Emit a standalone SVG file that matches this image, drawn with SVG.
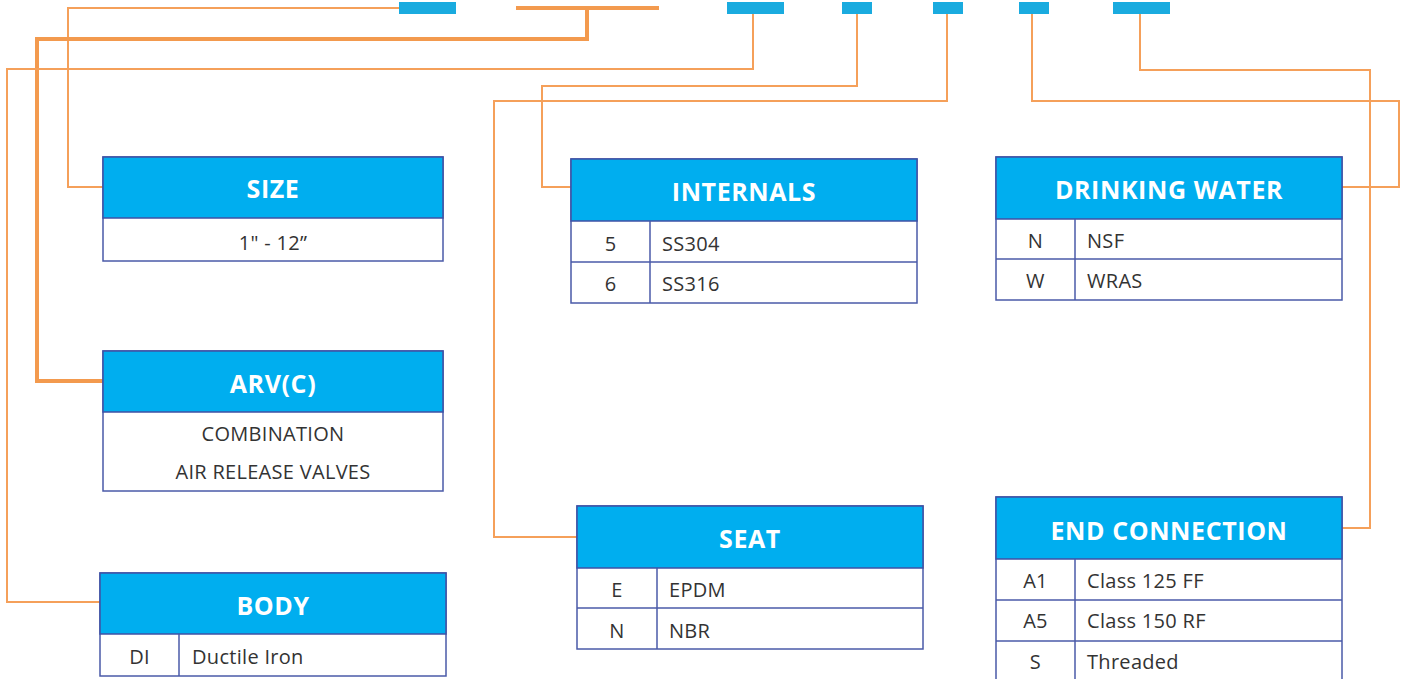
<svg xmlns="http://www.w3.org/2000/svg" width="1404" height="679" viewBox="0 0 1404 679">
<style>
.bar{fill:#1aabdf}
.hd{fill:#00aeef;stroke:#3f51a5;stroke-width:1.5}
.bd{fill:#ffffff;stroke:#4a5aa8;stroke-width:1.5}
.dv{stroke:#4a5aa8;stroke-width:1.5;fill:none}
.ht{font-family:"Open Sans","Noto Sans",sans-serif;font-weight:bold;font-size:25px;letter-spacing:0.6px;fill:#ffffff;text-anchor:middle}
.t{font-family:"Open Sans","Noto Sans",sans-serif;font-size:20px;letter-spacing:0.3px;fill:#333333}
.c{text-anchor:middle}
.ln{fill:none;stroke:#f5a05a;stroke-width:2}
.thk{fill:none;stroke:#f39a4e;stroke-width:4}
</style>
<rect width="1404" height="679" fill="#ffffff"/>
<g id="code-bars">
<rect class="bar" x="399" y="2" width="57" height="12"/>
<rect class="bar" x="727" y="2" width="57" height="12"/>
<rect class="bar" x="842" y="2" width="30" height="12"/>
<rect class="bar" x="933" y="2" width="30" height="12"/>
<rect class="bar" x="1019" y="2" width="30" height="12"/>
<rect class="bar" x="1113" y="2" width="57" height="12"/>
</g>
<g id="connectors">
<polyline class="ln" points="399,8 68,8 68,187 103,187"/>
<line class="thk" x1="516" y1="8" x2="659" y2="8"/>
<polyline class="thk" points="587,8 587,39 37,39 37,381 103,381"/>
<polyline class="ln" points="753,14 753,69 7,69 7,602 100,602"/>
<polyline class="ln" points="857,14 857,86 542,86 542,187 571,187"/>
<polyline class="ln" points="947,14 947,101 494,101 494,537 577,537"/>
<polyline class="ln" points="1032,14 1032,101 1399,101 1399,187 1342,187"/>
<polyline class="ln" points="1140,14 1140,70 1370,70 1370,528 1342,528"/>
</g>
<g id="size">
<rect class="bd" x="103" y="157" width="340" height="104"/>
<rect class="hd" x="103" y="157" width="340" height="61"/>
<text class="ht" x="273" y="198">SIZE</text>
<text class="t c" x="273" y="250">1" - 12”</text>
</g>
<g id="arv">
<rect class="bd" x="103" y="351" width="340" height="140"/>
<rect class="hd" x="103" y="351" width="340" height="61"/>
<text class="ht" x="273" y="393">ARV(C)</text>
<text class="t c" x="273" y="441">COMBINATION</text>
<text class="t c" x="273" y="479">AIR RELEASE VALVES</text>
</g>
<g id="body">
<rect class="bd" x="100" y="573" width="346" height="103"/>
<rect class="hd" x="100" y="573" width="346" height="61"/>
<line class="dv" x1="179" y1="634" x2="179" y2="676"/>
<text class="ht" x="273" y="615">BODY</text>
<text class="t c" x="139.5" y="664">DI</text>
<text class="t" x="192" y="664">Ductile Iron</text>
</g>
<g id="internals">
<rect class="bd" x="571" y="159" width="346" height="144"/>
<rect class="hd" x="571" y="159" width="346" height="62"/>
<line class="dv" x1="650" y1="221" x2="650" y2="303"/>
<line class="dv" x1="571" y1="262" x2="917" y2="262"/>
<text class="ht" x="744" y="201">INTERNALS</text>
<text class="t c" x="610.5" y="251">5</text>
<text class="t" x="662" y="251">SS304</text>
<text class="t c" x="610.5" y="291">6</text>
<text class="t" x="662" y="291">SS316</text>
</g>
<g id="seat">
<rect class="bd" x="577" y="506" width="346" height="143"/>
<rect class="hd" x="577" y="506" width="346" height="62"/>
<line class="dv" x1="657" y1="568" x2="657" y2="649"/>
<line class="dv" x1="577" y1="608" x2="923" y2="608"/>
<text class="ht" x="750" y="548">SEAT</text>
<text class="t c" x="617" y="597">E</text>
<text class="t" x="669" y="597">EPDM</text>
<text class="t c" x="617" y="638">N</text>
<text class="t" x="669" y="638">NBR</text>
</g>
<g id="drinking-water">
<rect class="bd" x="996" y="157" width="346" height="143"/>
<rect class="hd" x="996" y="157" width="346" height="62"/>
<line class="dv" x1="1075" y1="219" x2="1075" y2="300"/>
<line class="dv" x1="996" y1="259" x2="1342" y2="259"/>
<text class="ht" x="1169" y="199">DRINKING WATER</text>
<text class="t c" x="1035.5" y="248">N</text>
<text class="t" x="1087" y="248">NSF</text>
<text class="t c" x="1035.5" y="288">W</text>
<text class="t" x="1087" y="288">WRAS</text>
</g>
<g id="end-connection">
<rect class="bd" x="996" y="497" width="346" height="186"/>
<rect class="hd" x="996" y="497" width="346" height="62"/>
<line class="dv" x1="1075" y1="559" x2="1075" y2="683"/>
<line class="dv" x1="996" y1="600" x2="1342" y2="600"/>
<line class="dv" x1="996" y1="641" x2="1342" y2="641"/>
<text class="ht" x="1169" y="540">END CONNECTION</text>
<text class="t c" x="1035.5" y="588">A1</text>
<text class="t" x="1087" y="588">Class 125 FF</text>
<text class="t c" x="1035.5" y="628">A5</text>
<text class="t" x="1087" y="628">Class 150 RF</text>
<text class="t c" x="1035.5" y="669">S</text>
<text class="t" x="1087" y="669">Threaded</text>
</g>
</svg>
